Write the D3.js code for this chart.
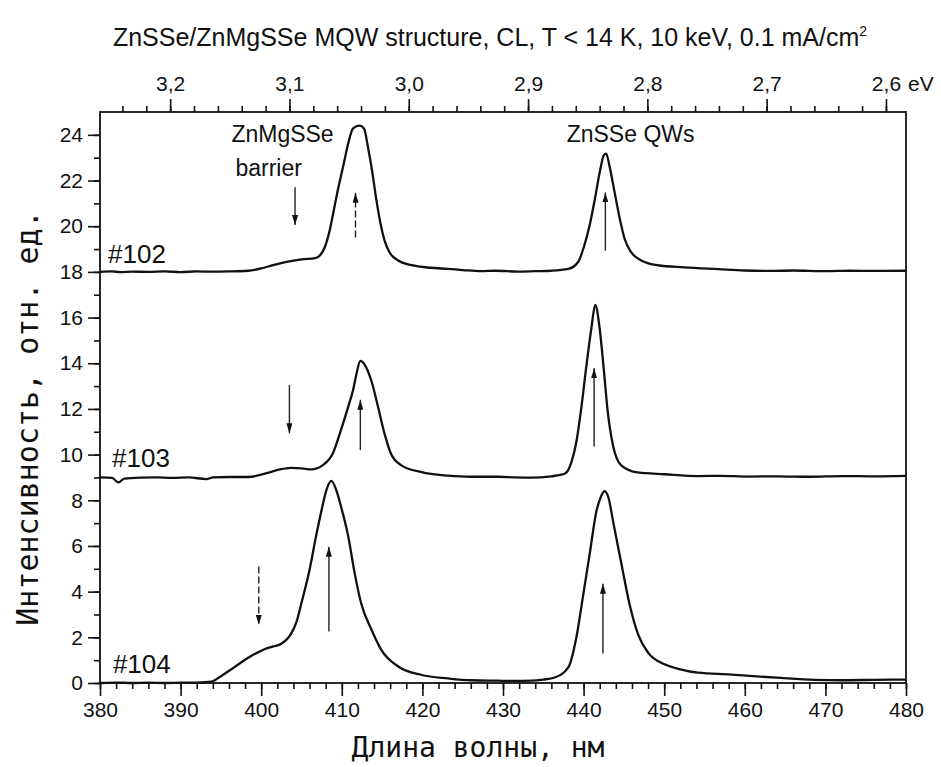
<!DOCTYPE html>
<html>
<head>
<meta charset="utf-8">
<script src="https://cdn.jsdelivr.net/npm/d3@7"></script>
<style>
  body { margin: 0; background: #fff; }
  text { fill: #111; }
</style>
</head>
<body>
<svg id="chart" width="941" height="767"></svg>
<script>
// #102 (offset 18)
const wl102 = [380, 381.5, 382.5, 384, 386, 388, 390, 392, 394, 396, 398.4, 400, 401.5, 403, 405, 406.7, 407.3, 407.9,
  408.5, 409, 409.5, 410.15, 410.8, 411.4, 412.2, 412.75, 413.25, 413.75, 414.3, 414.8, 415.3, 415.9, 417, 419, 421,
  423.2, 425, 427.3, 429, 431.9, 434, 436, 438.1, 439.3, 440.1, 440.75, 441.4, 442, 442.5, 442.8, 443.2, 443.85,
  444.5, 445.1, 445.9, 447.1, 449.2, 452.5, 456.7, 460, 462.9, 466, 470, 473, 476, 480]
const int102 = [18.0, 18.02, 17.99, 18.01, 18.0, 18.02, 17.99, 18.02, 18.01, 18.02, 18.05, 18.15, 18.3, 18.43, 18.55, 18.6, 18.73, 19.09,
  19.82, 20.69, 21.57, 22.59, 23.63, 24.28, 24.4, 24.28, 23.46, 22.44, 21.13, 20.12, 19.38, 18.87, 18.5, 18.27, 18.18,
  18.13, 18.08, 18.03, 18.05, 18.01, 18.03, 18.05, 18.13, 18.42, 19.17, 20.04, 21.19, 22.36, 23.1, 23.18, 22.66, 21.48,
  20.31, 19.44, 18.86, 18.51, 18.29, 18.2, 18.12, 18.06, 18.04, 18.06, 18.03, 18.05, 18.04, 18.05]

// #103 (offset 9)
const wl103 = [380, 381.5, 382.3, 383, 385, 387, 389, 391, 393.2, 394, 396, 398.4, 400.8, 402.3, 403.7, 405, 406.2, 407.7,
  408.9, 409.9, 410.8, 411.4, 411.8, 412.3, 412.9, 413.7, 414.5, 415.3, 416.1, 417.4, 419.9, 423.2, 426, 429.4, 431.5,
  433.5, 436, 437.7, 438.5, 439.1, 439.7, 440.3, 440.95, 441.45, 442, 442.5, 443, 443.65, 444.7, 446.7, 450.05, 454.2,
  457, 460.4, 464, 468, 472, 476, 480]
const int103 = [9.0, 8.98, 8.78, 8.95, 8.99, 9.0, 8.98, 9.0, 8.93, 9.0, 9.02, 9.02, 9.2, 9.35, 9.42, 9.4, 9.35, 9.55,
  10.06, 11.08, 12.1, 12.83, 13.5, 14.1, 13.9, 13.2, 12.08, 10.92, 10.04, 9.53, 9.23, 9.08, 9.03, 9.03, 9.0,
  8.99, 9.05, 9.17, 9.68, 10.55, 12.0, 13.75, 15.5, 16.55, 15.5, 13.75, 11.86, 10.4, 9.52, 9.22, 9.14, 9.06,
  9.07, 9.04, 9.05, 9.03, 9.06, 9.05, 9.07]

// #104 (no offset)
const wl104 = [380, 382, 384, 386, 388, 390, 392, 393.8, 395, 396.3, 397.5, 398.8, 400.4, 401.5, 402.5, 403.7, 404.4, 405,
  406, 406.8, 407.5, 408.1, 408.7, 409.3, 409.9, 410.8, 411.6, 412.4, 413.7, 414.9, 417, 419.9, 423.2, 426, 429.4,
  431.5, 433.5, 435, 436.4, 438.1, 439.1, 439.9, 440.75, 441.6, 442.2, 442.6, 443.1, 443.65, 444.7, 445.7, 446.75,
  448, 450.05, 452, 454.2, 458.3, 461, 464.5, 468.7, 472, 476, 480]
const int104 = [0.0, 0.02, 0.0, 0.01, 0.0, 0.01, 0.02, 0.06, 0.3, 0.6, 0.9, 1.19, 1.48, 1.6, 1.72, 2.15, 2.7, 3.51,
  4.96, 6.42, 7.58, 8.46, 8.85, 8.46, 7.73, 6.42, 4.8, 3.49, 2.32, 1.45, 0.72, 0.35, 0.2, 0.12, 0.1,
  0.09, 0.1, 0.15, 0.24, 0.68, 1.99, 3.74, 5.64, 7.54, 8.2, 8.4, 8.1, 7.09, 5.2, 3.45, 2.14,
  1.33, 0.82, 0.6, 0.45, 0.37, 0.3, 0.22, 0.14, 0.12, 0.14, 0.15]

// arrows: wavelength, from, to
const arrowWl   = [404.2, 411.7, 442.7, 403.5, 412.3, 441.3, 399.7, 408.4, 442.4]
const arrowFrom = [21.7, 19.5, 18.93, 13.05, 10.2, 10.36, 5.1, 2.25, 1.29]
const arrowTo   = [20.05, 21.46, 21.48, 10.93, 12.4, 13.78, 2.55, 5.97, 4.35]
const arrowDash = [false, true, false, false, false, false, true, false, false]

const xTicks = [380, 390, 400, 410, 420, 430, 440, 450, 460, 470, 480]
const eTicks = [3.2, 3.1, 3.0, 2.9, 2.8, 2.7, 2.6]
const yTicks = [0, 2, 4, 6, 8, 10, 12, 14, 16, 18, 20, 22, 24]

const margin = {top: 112, right: 35, bottom: 84, left: 100}
const W = 941, H = 767
const width = W - margin.left - margin.right
const height = H - margin.top - margin.bottom

const x = d3.scaleLinear().domain([380, 480]).range([0, width])
const e = d3.scaleLinear().domain([3.2588, 2.5832]).range([0, width])
const y = d3.scaleLinear().domain([0, 25]).range([height, 0])

const svg = d3.select('#chart')
const main = svg.append('g')
  .attr('transform', 'translate(' + margin.left + ',' + margin.top + ')')

const tickFont = 'Liberation Sans, Arial, sans-serif'

// bottom axis
main.append('g')
  .attr('transform', 'translate(0,' + height + ')')
  .call(d3.axisBottom(x).tickValues(d3.range(380, 481, 2)).tickSize(6).tickFormat(''))
main.append('g')
  .attr('transform', 'translate(0,' + height + ')')
  .call(d3.axisBottom(x).tickValues(xTicks).tickSize(13).tickPadding(6))

// top axis (eV)
main.append('g')
  .call(d3.axisTop(e).tickValues(d3.range(130, 163).map(k => k / 50)).tickSize(6).tickFormat(''))
main.append('g')
  .call(d3.axisTop(e).tickValues(eTicks).tickSize(13).tickPadding(8)
    .tickFormat(d => d3.format('.1f')(d).replace('.', ',')))

// left axis
main.append('g')
  .call(d3.axisLeft(y).tickValues(d3.range(0, 25, 1)).tickSize(6).tickFormat(''))
main.append('g')
  .call(d3.axisLeft(y).tickValues(yTicks).tickSize(12).tickPadding(5))

main.selectAll('.domain').remove()
main.selectAll('.tick line').attr('stroke', '#111').attr('stroke-width', 1.6)
main.selectAll('.tick text')
  .style('font-family', tickFont)
  .style('font-size', '21px')
  .attr('fill', '#111')

main.append('text')
  .attr('x', e(2.6) + 22)
  .attr('y', -21)
  .style('font-family', tickFont)
  .style('font-size', '21px')
  .text('eV')

// frame
main.append('rect')
  .attr('width', width)
  .attr('height', height)
  .attr('fill', 'none')
  .attr('stroke', '#111')
  .attr('stroke-width', 1.8)

// curves
const line = d3.line()
  .x(d => x(d[0]))
  .y(d => y(d[1]))
  .curve(d3.curveMonotoneX)

const series = [
  d3.zip(wl102, int102),
  d3.zip(wl103, int103),
  d3.zip(wl104, int104)
]

main.selectAll('path.spec')
  .data(series)
  .enter().append('path')
  .attr('class', 'spec')
  .attr('d', line)
  .attr('fill', 'none')
  .attr('stroke', '#111')
  .attr('stroke-width', 2.3)
  .attr('stroke-linejoin', 'round')

// arrows
svg.append('defs').append('marker')
  .attr('id', 'head')
  .attr('viewBox', '0 0 10 10')
  .attr('preserveAspectRatio', 'none')
  .attr('refX', 10).attr('refY', 5)
  .attr('markerWidth', 10).attr('markerHeight', 6)
  .attr('markerUnits', 'userSpaceOnUse')
  .attr('orient', 'auto')
  .append('path')
  .attr('d', 'M0,0 L10,5 L0,10 z')
  .attr('fill', '#111')

main.selectAll('line.arrow')
  .data(d3.range(arrowWl.length))
  .enter().append('line')
  .attr('class', 'arrow')
  .attr('x1', i => x(arrowWl[i]))
  .attr('x2', i => x(arrowWl[i]))
  .attr('y1', i => y(arrowFrom[i]))
  .attr('y2', i => y(arrowTo[i]))
  .attr('stroke', '#222')
  .attr('stroke-width', 1.4)
  .attr('stroke-dasharray', i => arrowDash[i] ? '7,3' : null)
  .attr('marker-end', 'url(#head)')

// sample labels
const labelFont = 'Liberation Sans, Arial, sans-serif'
const samples = [['#102', 381, 18.4], ['#103', 381.5, 9.46], ['#104', 381.6, 0.44]]
main.selectAll('text.sample')
  .data(samples)
  .enter().append('text')
  .attr('class', 'sample')
  .attr('x', d => x(d[1]))
  .attr('y', d => y(d[2]))
  .style('font-family', labelFont)
  .style('font-size', '26px')
  .text(d => d[0])

const notes = [['ZnMgSSe', 396.3, 23.69], ['barrier', 396.8, 22.2], ['ZnSSe QWs', 437.9, 23.69]]
main.selectAll('text.note')
  .data(notes)
  .enter().append('text')
  .attr('class', 'note')
  .attr('x', d => x(d[1]))
  .attr('y', d => y(d[2]))
  .style('font-family', labelFont)
  .style('font-size', '23px')
  .text(d => d[0])

// titles
const title = svg.append('text')
  .attr('x', 490)
  .attr('y', 46)
  .attr('text-anchor', 'middle')
  .style('font-family', labelFont)
  .style('font-size', '25px')
title.append('tspan').text('ZnSSe/ZnMgSSe MQW structure, CL, T < 14 K, 10 keV, 0.1 mA/cm')
title.append('tspan').attr('dy', -10).style('font-size', '14px').text('2')

svg.append('text')
  .attr('x', 478)
  .attr('y', 757)
  .attr('text-anchor', 'middle')
  .style('font-family', 'DejaVu Sans Mono, monospace')
  .style('font-size', '28px')
  .text('Длина волны, нм')

svg.append('text')
  .attr('transform', 'translate(38,418) rotate(-90)')
  .attr('text-anchor', 'middle')
  .style('font-family', 'DejaVu Sans Mono, monospace')
  .style('font-size', '30px')
  .text('Интенсивность, отн. ед.')
</script>
</body>
</html>
